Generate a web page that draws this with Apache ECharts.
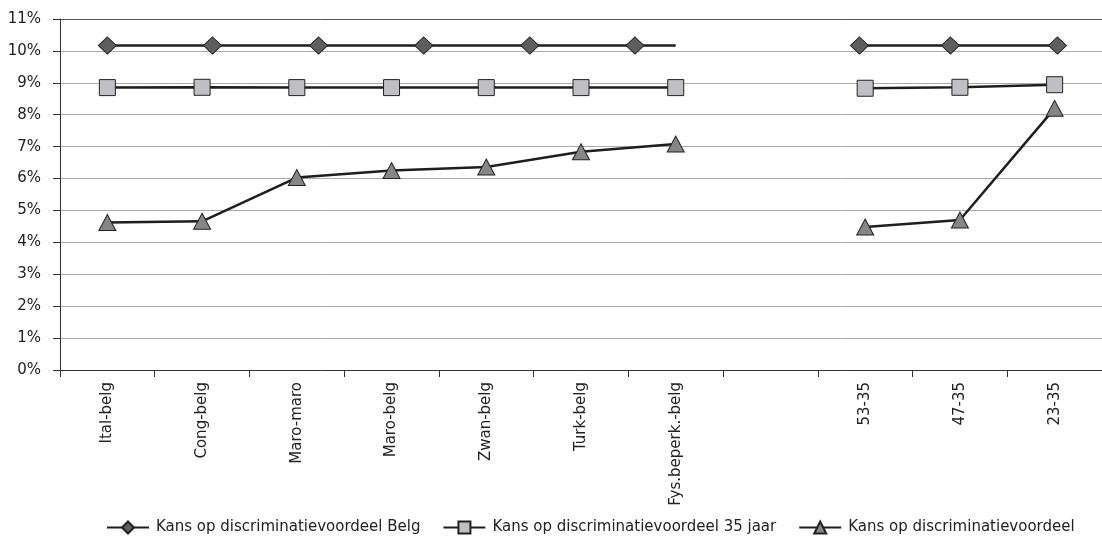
<!DOCTYPE html>
<html>
<head>
<meta charset="utf-8">
<script src="https://cdn.jsdelivr.net/npm/echarts@6/dist/echarts.min.js"></script>
<style>html,body{margin:0;padding:0;background:#fff}#c{width:1102px;height:539px}</style>
</head>
<body>
<div id="c"></div>
<script>
var categories = ['Ital-belg','Cong-belg','Maro-maro','Maro-belg','Zwan-belg','Turk-belg','Fys.beperk.-belg','','53-35','47-35','23-35'];
var yTicks = [0,1,2,3,4,5,6,7,8,9,10,11];
// Belg series: markers are placed at positions along the category scale (category units)
var belgLeftX = [0, 1.11, 2.23, 3.34, 4.46, 5.57, 6.0];
var belgLeftY = [10.17, 10.17, 10.17, 10.17, 10.17, 10.17, 10.17];
var belgLeftMarker = [true, true, true, true, true, true, false];
var belgRightX = [7.94, 8.90, 10.03];
var belgRightY = [10.17, 10.17, 10.17];
var age35 = [8.85, 8.86, 8.85, 8.85, 8.85, 8.85, 8.85, null, 8.83, 8.86, 8.94];
var overall = [4.62, 4.66, 6.03, 6.25, 6.36, 6.84, 7.08, null, 4.48, 4.70, 8.20];
var names = ['Kans op discriminatievoordeel Belg','Kans op discriminatievoordeel 35 jaar','Kans op discriminatievoordeel'];

var FONT = 'DejaVu Sans';
var lineCol = '#1e1e1e';
var gridColors = yTicks.map(function(v, i){ return i === yTicks.length - 1 ? '#555' : '#ababab'; });

var chart = echarts.init(document.getElementById('c'));
chart.setOption({
  animation: false,
  backgroundColor: '#fff',
  textStyle: {fontFamily: FONT},
  grid: {left: 60, right: -10, top: 19, bottom: 169, containLabel: false},
  legend: {
    left: 106, top: 520, padding: 0,
    itemWidth: 42, itemHeight: 15, itemGap: 22,
    data: names,
    textStyle: {fontFamily: FONT, fontSize: 15, color: '#222', padding: [0, 0, 0, 2]}
  },
  xAxis: [{
    type: 'category', data: categories, boundaryGap: true,
    axisLine: {lineStyle: {color: '#333', width: 1}},
    axisTick: {show: true, interval: 0, length: 7, lineStyle: {color: '#333'}},
    axisLabel: {interval: 0, rotate: 90, margin: 12, fontFamily: FONT, fontSize: 15, color: '#222'},
    splitLine: {show: false}
  }, {
    type: 'value', min: -0.5, max: 10.5, show: false
  }],
  yAxis: {
    type: 'value', min: 0, max: 11, interval: 1,
    axisLine: {show: true, onZero: false, lineStyle: {color: '#333', width: 1}},
    axisTick: {show: true, length: 7, lineStyle: {color: '#333'}},
    axisLabel: {formatter: '{value}%', margin: 19, fontFamily: FONT, fontSize: 15, color: '#222'},
    splitLine: {show: true, lineStyle: {color: gridColors, width: 1}}
  },
  series: [{
    name: names[0], type: 'line', xAxisIndex: 1,
    data: belgLeftX.map(function(x, i){ return belgLeftMarker[i] ? [x, belgLeftY[i]] : {value: [x, belgLeftY[i]], symbol: 'none'}; }),
    symbol: 'diamond', symbolSize: [18, 17], showAllSymbol: true,
    lineStyle: {color: lineCol, width: 2.5},
    itemStyle: {color: '#5e5e5e', borderColor: '#222', borderWidth: 1},
    z: 3
  }, {
    name: names[0], type: 'line', xAxisIndex: 1,
    data: belgRightX.map(function(x, i){ return [x, belgRightY[i]]; }),
    symbol: 'diamond', symbolSize: [18, 17], showAllSymbol: true,
    lineStyle: {color: lineCol, width: 2.5},
    itemStyle: {color: '#5e5e5e', borderColor: '#222', borderWidth: 1},
    z: 3
  }, {
    name: names[1], type: 'line', xAxisIndex: 0,
    data: age35, connectNulls: false,
    symbol: 'rect', symbolSize: 16, showAllSymbol: true,
    lineStyle: {color: lineCol, width: 2.5},
    itemStyle: {color: '#c0c0c4', borderColor: '#222', borderWidth: 1},
    z: 3
  }, {
    name: names[2], type: 'line', xAxisIndex: 0,
    data: overall, connectNulls: false,
    symbol: 'triangle', symbolSize: [17, 16], showAllSymbol: true,
    lineStyle: {color: lineCol, width: 2.5},
    itemStyle: {color: '#868686', borderColor: '#222', borderWidth: 1},
    z: 3
  }]
});
</script>
</body>
</html>
